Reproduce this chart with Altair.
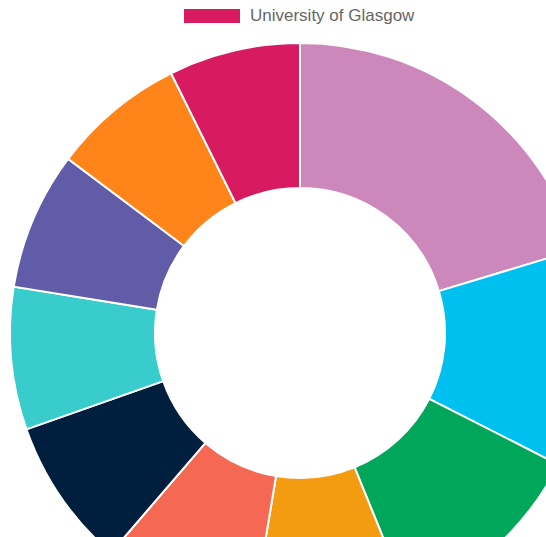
import altair as alt
import pandas as pd

categories = [
    "University of Oxford",
    "University of Cambridge",
    "Imperial College London",
    "University College London",
    "University of Edinburgh",
    "King's College London",
    "University of Manchester",
    "University of Bristol",
    "University of Warwick",
    "University of Glasgow",
]
values = [73.2, 43.8, 40.9, 31.6, 31.2, 29.9, 28.6, 27.7, 26.7, 26.4]
colors = ["#cc88bb", "#00c0ef", "#00a65a", "#f39c12", "#f56954",
          "#001f3f", "#39cccc", "#605ca8", "#ff851b", "#d81b60"]

df = pd.DataFrame({"name": categories, "value": values, "idx": list(range(len(categories)))})

chart = alt.Chart(df).mark_arc(
    innerRadius=145, outerRadius=290, stroke="white", strokeWidth=2
).encode(
    theta=alt.Theta("value:Q", stack=True),
    order=alt.Order("idx:Q"),
    color=alt.Color(
        "name:N",
        scale=alt.Scale(domain=categories, range=colors),
        legend=alt.Legend(
            values=["University of Glasgow"],
            title=None,
            orient="none",
            legendX=198,
            legendY=2,
            symbolType="M-2,-0.5H2V0.5H-2Z",
            symbolSize=784,
            symbolStrokeWidth=0,
            symbolOpacity=1,
            labelFont="Liberation Sans",
            labelFontSize=17,
            labelColor="#666666",
            labelOffset=24,
            labelLimit=400,
        ),
    ),
    x=alt.value(300),
    y=alt.value(333),
).properties(
    width=546, height=537, padding=0, autosize="none"
).configure_view(stroke=None)

chart.save("out.html", embed_options={"renderer": "svg", "actions": False})
